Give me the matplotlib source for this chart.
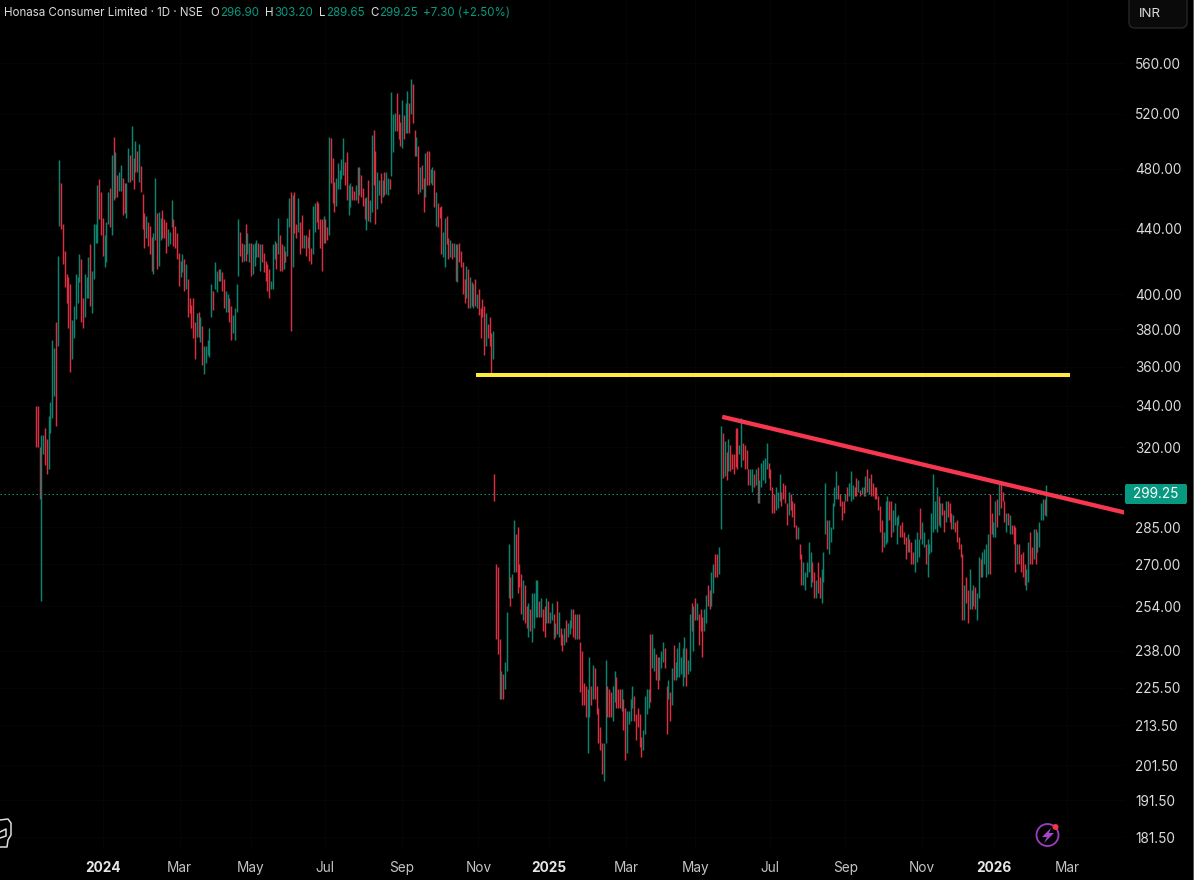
import numpy as np
import pandas as pd
import matplotlib
matplotlib.use("Agg")
import matplotlib.pyplot as plt
import matplotlib.dates as mdates
from matplotlib.patches import Circle, FancyBboxPatch, Polygon, Rectangle

# Daily session ranges, split into four stretches of the price history.
spans = [("2023-11-07", "2024-06-09"), ("2024-06-11", "2024-11-16"),
         ("2024-11-17", "2025-05-20"), ("2025-05-22", "2026-02-13")]

highs_a = [340,340,320,326,326,329,324,335,342,374,
           370,384,423,486,470,443,426,412,410,406,
           385,393,412,410,424,421,398,412,410,422,
           430,414,443,443,469,473,464,447,436,444,
           464,467,490,503,492,476,478,483,474,470,
           470,495,490,511,488,500,493,498,482,463,
           450,448,444,442,435,437,474,450,451,447,
           452,446,444,440,438,459,446,442,437,425,
           420,424,421,418,409,398,394,398,384,389,
           390,387,382,371,371,374,381,406,402,419,
           414,415,415,413,409,402,400,398,393,388,
           392,406,446,438,431,430,443,437,431,431,
           430,431,433,431,430,430,425,420,418,415,
           408,430,432,431,447,436,430,429,426,447,
           460,464,462,464,443,460]
lows_a = [320,320,297,256,317,312,308,310,327,334,
          345,330,371,442,440,418,404,395,381,357,
          364,375,386,395,407,384,381,387,398,398,
          393,389,409,431,431,446,436,423,416,419,
          443,441,436,459,460,461,465,465,449,450,
          447,471,471,472,466,478,478,471,464,440,
          428,434,429,424,414,412,433,415,417,433,
          434,434,425,429,430,441,429,428,421,405,
          410,413,402,403,387,389,381,375,364,376,
          376,373,361,356,362,366,365,387,391,403,
          401,408,408,402,392,390,390,384,374,378,
          374,390,411,423,419,420,420,424,419,411,
          412,417,422,422,414,419,413,408,402,398,
          403,403,421,415,424,414,414,415,419,423,
          441,379,416,437,434,438]
dirs_a = ("rrrggrrggg" "grggrrrrrr" "gggggrrggg" "rggggrrrgg" "grgrgrggrr"
          "ggrgrgrgrr" "rgrrrggrgg" "rrrgggrrrr" "ggrgrrrrrg" "rgrgggggrg"
          "grgrrggrrg" "gggrrgrggr" "gggrgrrrrr" "gggrgrrgrg" "grgrrg")

highs_b = [444,449,436,436,435,440,428,455,457,458,
           457,446,446,448,446,441,503,502,488,471,
           474,484,479,487,502,485,492,469,470,468,
           465,469,481,481,476,467,460,461,472,459,
           504,508,493,478,472,477,472,478,478,474,
           473,537,520,521,536,520,514,531,519,528,
           538,528,547,543,508,503,496,481,483,474,
           491,493,493,480,481,479,464,457,454,455,
           438,447,448,434,433,431,431,430,430,431,
           426,419,409,417,415,410,407,406,409,400,
           403,392,397,393,389,383,387,378,379]
lows_b = [424,428,428,423,428,420,418,424,438,444,
          440,428,414,431,431,433,436,470,457,451,
          455,466,466,473,476,469,459,449,454,459,
          459,459,457,462,461,455,446,439,445,444,
          451,469,443,453,462,457,461,462,463,462,
          466,475,492,507,507,501,496,495,501,506,
          506,506,520,513,489,489,463,464,466,451,
          461,469,469,470,469,454,442,441,447,424,
          422,416,430,421,422,421,422,408,407,419,
          416,400,395,398,392,392,393,392,393,392,
          388,375,387,366,371,375,371,355,364]
dirs_b = ("rrgrgrrggr" "rrrgrrgrrr" "gggggrrggr" "rgrgrrrgrg" "grrggrgrgg"
          "rgggrrrgrg" "grgrrgrgrr" "grrggrgrrr" "ggrrgrgrgr" "rrrgrgrgrg"
          "rrrrgrrrg")

highs_c = [308,270,269,242,231,230,234,252,278,265,
           266,288,282,285,270,266,264,262,254,255,
           253,259,259,264,264,256,257,253,254,257,
           256,252,255,251,248,256,252,246,244,246,
           249,248,249,253,253,251,251,251,241,238,
           227,226,225,236,226,233,232,226,219,213,
           208,208,235,226,225,224,226,231,229,225,
           225,225,222,219,218,218,222,226,223,217,
           219,217,210,212,223,225,225,244,244,239,
           237,236,236,238,241,239,226,228,224,232,
           240,234,239,241,236,239,243,239,235,251,
           255,254,257,255,251,253,250,253,258,262,
           260,267,270,274,274,277]
lows_c = [296,242,237,222,222,222,225,231,257,254,
          257,267,267,259,261,251,249,248,246,243,
          245,241,246,250,250,250,250,245,243,248,
          248,248,249,242,243,244,243,240,238,240,
          241,243,244,246,243,242,242,242,224,220,
          220,216,205,216,220,222,222,217,208,206,
          199,197,208,216,216,216,215,221,219,219,
          219,218,212,203,205,214,215,219,215,209,
          213,207,204,206,211,217,219,221,232,231,
          228,225,228,232,234,232,211,222,215,220,
          228,228,229,229,230,226,229,226,230,231,
          245,238,249,249,240,245,236,245,248,254,
          253,254,259,265,265,266]
dirs_c = ("rrrrgrgggr" "ggrrrrgrrg" "rggggrgrrg" "rggrgrgrrg" "rgggrrgrrr"
          "rrggrgrrrr" "rggrrrggrr" "rgrrggggrr" "rrrggggrgg" "rrgggrrgrg"
          "rggggggrgg" "rgrgrrrggr" "rggrrg")

highs_d = [330,327,323,318,324,321,317,317,329,329,
           321,334,322,321,319,310,310,310,308,310,
           311,305,313,314,315,322,313,310,302,299,
           302,300,308,300,304,303,295,300,299,296,
           295,286,285,278,274,271,267,271,279,275,
           271,267,264,271,265,268,275,304,288,288,
           285,295,302,309,303,299,296,296,299,302,
           304,309,303,302,306,305,301,302,302,307,
           310,306,308,304,302,302,298,294,288,283,
           296,298,296,296,292,295,289,290,286,287,
           283,281,282,280,279,275,280,283,280,293,
           287,283,278,280,278,291,308,296,302,298,
           295,295,292,296,296,295,291,290,287,288,
           281,278,274,262,265,260,268,260,262,261,
           259,273,272,275,276,278,282,299,291,287,
           296,297,304,304,300,296,291,291,290,286,
           286,285,278,278,274,275,270,268,279,283,
           277,284,284,283,287,295,297,297,303.20]
lows_d = [284,306,307,305,309,309,310,308,311,310,
          317,311,314,310,310,303,303,300,302,303,
          295,295,302,305,304,310,306,301,291,291,
          292,293,296,294,297,295,286,290,292,289,
          285,280,280,272,262,262,260,265,267,261,
          263,257,257,259,257,255,263,282,276,274,
          279,284,294,297,297,294,288,291,296,296,
          298,296,297,298,298,300,298,299,298,298,
          300,299,298,298,297,297,292,283,275,277,
          278,279,288,281,283,286,278,286,281,281,
          278,272,275,275,270,270,267,271,273,280,
          278,277,270,265,274,275,283,284,283,286,
          285,290,283,287,289,287,284,284,283,279,
          276,273,249,249,255,248,253,253,254,253,
          249,257,265,265,270,265,266,266,282,281,
          281,285,290,293,296,287,283,286,282,282,
          278,267,270,270,267,265,262,260,263,270,
          270,272,270,275,277,288,288,290,289.65]
dirs_d = ("grgrgrrrrr" "ggrrrrggrg" "rgggggrrrr" "gggrrrrgrr" "rrgrrggggg"
          "rrgrrgggrg" "ggggrrrrgr" "gggrrgrgrg" "rgrrrrrrrg" "ggrrggggrr"
          "rrgrrrgggr" "ggrggggggr" "grrgrrrgrr" "rrrgrrgrgr" "ggrggggrrg"
          "grgrrrgrgr" "rrgrrrrggr" "rgrggggrg")

last_open, last_close = 296.90, 299.25
price_ticks = [560, 520, 480, 440, 400, 380, 360, 340, 320, 285, 270, 254,
               238, 225.5, 213.5, 201.5, 191.5, 181.5]
month_labels = ["2024", "Mar", "May", "Jul", "Sep", "Nov", "2025", "Mar",
                "May", "Jul", "Sep", "Nov", "2026", "Mar"]
month_dates = ["2024-01-01", "2024-03-04", "2024-05-01", "2024-07-01",
               "2024-09-02", "2024-11-04", "2025-01-01", "2025-03-05",
               "2025-05-01", "2025-07-01", "2025-09-01", "2025-11-03",
               "2026-01-01", "2026-03-02"]

support_level = 355.6
support_span = ("2024-11-02", "2026-03-04")
trend_dates = ("2025-05-23", "2026-04-22")
trend_prices = (334.6, 290.6)

UP, DOWN = "#0a8470", "#d82f41"
BADGE = "#089981"
TEXT = "#dcdcdc"
FONT = ["Inter", "DejaVu Sans"]

plt.rcParams["font.family"] = FONT
fig = plt.figure(figsize=(12, 8.8), dpi=100, facecolor="black")
ax = fig.add_axes([0, 30 / 880, 1124 / 1200, 850 / 880], facecolor="black")

segments = [(highs_a, lows_a, dirs_a), (highs_b, lows_b, dirs_b),
            (highs_c, lows_c, dirs_c), (highs_d, lows_d, dirs_d)]
for (start, end), (hi, lo, dr) in zip(spans, segments):
    if not len(hi) == len(lo) == len(dr):
        raise ValueError(f"segment {start}: {len(hi)} {len(lo)} {len(dr)}")
    x = mdates.date2num(pd.date_range(start, end, periods=len(hi)))
    colors = [UP if d == "g" else DOWN for d in dr]
    ax.vlines(x, lo, hi, colors=colors, linewidth=1.05, zorder=3)

ax.set_yscale("log")
ax.set_ylim(178.1, 613.8)
ax.set_xlim(mdates.date2num(pd.Timestamp("2023-10-08 12:00")),
            mdates.date2num(pd.Timestamp("2026-04-17 14:00")))

ax.axhline(last_close, color=BADGE, lw=0.72, ls=(0, (1.5, 2.5)), zorder=2)
ax.plot(mdates.date2num(pd.to_datetime(list(support_span))),
        [support_level, support_level], color="#ffeb3b", lw=2.9,
        solid_capstyle="butt", zorder=4)
ax.plot(mdates.date2num(pd.to_datetime(list(trend_dates))), trend_prices,
        color="#f7374f", lw=3.1, solid_capstyle="butt", zorder=4)

ax.yaxis.tick_right()
ax.set_yticks(price_ticks)
ax.set_yticklabels([f"{p:.2f}" for p in price_ticks])
ax.yaxis.set_minor_locator(matplotlib.ticker.NullLocator())
ax.set_xticks(mdates.date2num(pd.to_datetime(month_dates)))
ax.set_xticklabels(month_labels)
ax.tick_params(axis="y", length=0, pad=8, labelsize=9.8, labelcolor=TEXT)
ax.tick_params(axis="x", length=0, pad=7.7, labelsize=9.8, labelcolor="#c4c4c4")
for label, name in zip(ax.get_xticklabels(), month_labels):
    if name.isdigit():
        label.set_fontweight("bold")
        label.set_color("#e6e6e6")
ax.grid(True, color="#060606", lw=0.7, zorder=0)
for spine in ax.spines.values():
    spine.set_visible(False)

# Pixel-based layer for the header, the badge and the small interface marks.
ui = fig.add_axes([0, 0, 1, 1], facecolor="none", zorder=5)
ui.set_xlim(0, 1200)
ui.set_ylim(880, 0)
ui.axis("off")

header = [(4, "Honasa Consumer Limited · 1D · NSE", TEXT), (210, "O", TEXT),
          (220, "296.90", BADGE), (265, "H", TEXT), (274, "303.20", BADGE),
          (319, "L", TEXT), (326, "289.65", BADGE), (370, "C", TEXT),
          (379, "299.25", BADGE), (423, "+7.30 (+2.50%)", BADGE)]
for px, text, color in header:
    ui.text(px, 13.5, text, color=color, fontsize=8.3, va="center", ha="left")

ui.add_patch(FancyBboxPatch((1129, -8), 58, 36, boxstyle="round,pad=0,rounding_size=6",
                            fc="#0a0a0a", ec="#262626", lw=1))
ui.text(1150, 14, "INR", color=TEXT, fontsize=9.6, va="center", ha="center")

ui.add_patch(FancyBboxPatch((1125, 484), 62, 20, boxstyle="round,pad=0,rounding_size=2",
                            fc=BADGE, ec="none"))
ui.text(1156, 494, f"{last_close:.2f}", color="white", fontsize=9.8,
        va="center", ha="center")

ui.add_patch(Circle((1047.5, 835), 11, fc="none", ec="#a03cc4", lw=1.3))
ui.add_patch(Polygon([(1051, 828), (1042, 837), (1047, 837), (1044, 843),
                      (1054, 833), (1049, 833)], fc="#a844cc", ec="none"))
ui.add_patch(Circle((1055.5, 827), 3, fc="#f23645", ec="none"))

ui.plot([0, 8, 11, 11, 8, 7, 0], [820, 819, 823, 835, 840, 847, 847],
        color="#dddddd", lw=1.1)
ui.plot([0, 6, 6, 0], [832, 829, 836, 838], color="#dddddd", lw=1.1)

# Margin of the window on the right-hand side.
ui.add_patch(Rectangle((1193, 0), 7, 880, fc="white", ec="none"))
ui.plot([1192.5, 1192.5], [0, 880], color="#555555", lw=0.7)

fig.savefig("out.png", dpi=100, facecolor="black")
